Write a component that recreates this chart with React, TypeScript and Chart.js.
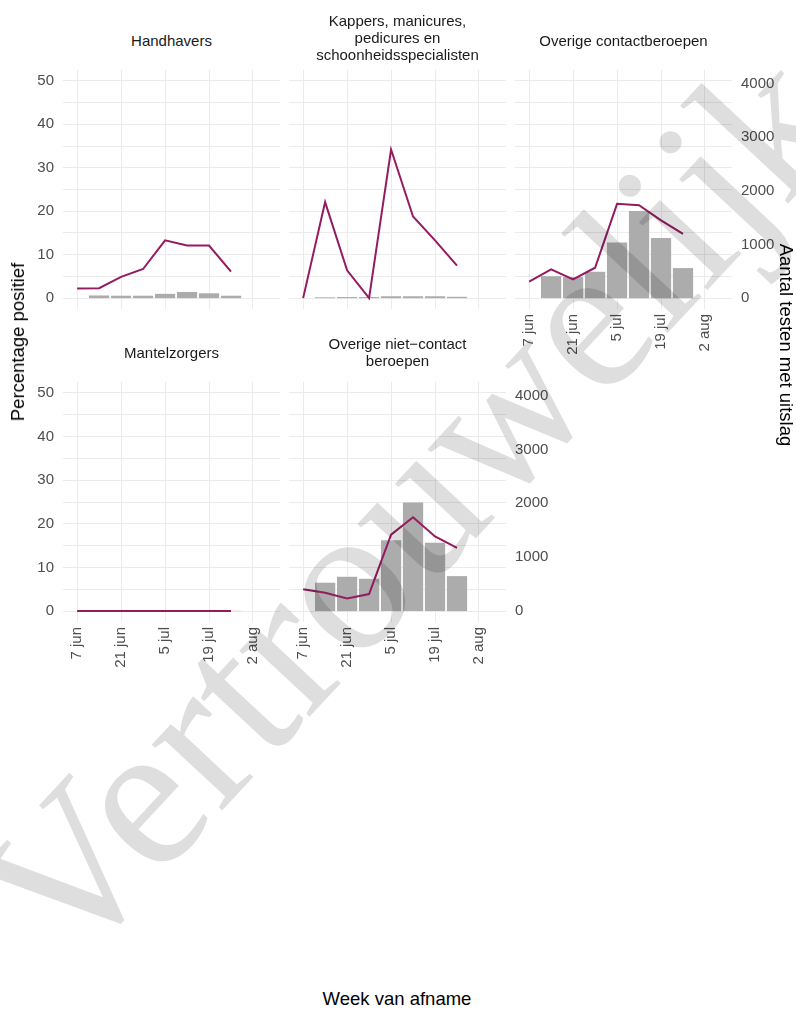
import React, { useEffect, useRef } from 'react';
import { Chart, registerables } from 'chart.js';

Chart.register(...registerables);

// ---- data ----
const weekDates = ['2020-06-07', '2020-06-14', '2020-06-21', '2020-06-28', '2020-07-05', '2020-07-12', '2020-07-19', '2020-07-26'];
const barDates = ['2020-06-14', '2020-06-21', '2020-06-28', '2020-07-05', '2020-07-12', '2020-07-19', '2020-07-26'];
const axisTickDates = ['2020-06-07', '2020-06-21', '2020-07-05', '2020-07-19', '2020-08-02'];
const axisTickLabels = ['7 jun', '21 jun', '5 jul', '19 jul', '2 aug'];
const pctTicks = [0, 10, 20, 30, 40, 50];
const countTicks = [0, 1000, 2000, 3000, 4000];

const pctHandhavers = [2.2, 2.3, 4.9, 6.7, 13.3, 12.1, 12.1, 6.1];
const countHandhavers = [50, 45, 45, 80, 115, 90, 45];
const pctKappers = [0, 22.1, 6.4, 0, 34.2, 18.8, 13.3, 7.5];
const countKappers = [15, 20, 20, 35, 35, 35, 25];
const pctContact = [3.8, 6.6, 4.3, 7.0, 21.7, 21.4, 17.9, 14.8];
const countContact = [410, 392, 491, 1039, 1623, 1119, 560];
const pctMantel = [0, 0, 0, 0, 0, 0, 0, 0];
const countMantel = [4, 5, 5, 6, 6, 5, 5];
const pctNietContact = [5.0, 4.2, 2.9, 3.9, 17.5, 21.5, 17.1, 14.5];
const countNietContact = [527, 637, 600, 1317, 2015, 1268, 649];

const facetTitles = [
  ['Handhavers'],
  ['Kappers, manicures,', 'pedicures en', 'schoonheidsspecialisten'],
  ['Overige contactberoepen'],
  ['Mantelzorgers'],
  ['Overige niet\u2212contact', 'beroepen'],
];

// ---- styling / layout ----
const FONT = '"Liberation Sans", Arial, sans-serif';
const LINE_COLOR = '#951b61';
const BAR_COLOR = '#acacac';
const GRID_COLOR = '#ebebeb';
const TICK_COLOR = '#4d4d4d';
const COUNT_FACTOR = 81;
const X_MIN = -4.5;
const X_MAX = 64.6;
const Y_MIN = -2.5;
const Y_MAX = 52.5;

const COLS = [
  { left: 63, right: 280 },
  { left: 289, right: 506 },
  { left: 515, right: 732 },
];
const ROWS = [
  { top: 70, bottom: 309 },
  { top: 382, bottom: 622 },
];
const ML = 60, MR = 60, MT = 20, MB = 70;

const DAY = 86400000;
const origin = Date.parse(weekDates[0]);
const toDay = (s: string) => Math.round((Date.parse(s) - origin) / DAY);
const weekDays = weekDates.map(toDay);
const barDays = barDates.map(toDay);
const tickDays = axisTickDates.map(toDay);

type Spec = {
  title: string[];
  col: number;
  row: number;
  pct: number[];
  count: number[];
  showX: boolean;
  showY: boolean;
  showY2: boolean;
  titleTop: number;
};

const panels: Spec[] = [
  { title: facetTitles[0], col: 0, row: 0, pct: pctHandhavers, count: countHandhavers, showX: false, showY: true, showY2: false, titleTop: 31.5 },
  { title: facetTitles[1], col: 1, row: 0, pct: pctKappers, count: countKappers, showX: false, showY: false, showY2: false, titleTop: 11.5 },
  { title: facetTitles[2], col: 2, row: 0, pct: pctContact, count: countContact, showX: true, showY: false, showY2: true, titleTop: 31.5 },
  { title: facetTitles[3], col: 0, row: 1, pct: pctMantel, count: countMantel, showX: true, showY: true, showY2: false, titleTop: 343.5 },
  { title: facetTitles[4], col: 1, row: 1, pct: pctNietContact, count: countNietContact, showX: true, showY: false, showY2: true, titleTop: 334.5 },
];

function Panel({ spec }: { spec: Spec }) {
  const ref = useRef<HTMLCanvasElement>(null);
  const { left, right } = COLS[spec.col];
  const { top, bottom } = ROWS[spec.row];
  const w = right - left + ML + MR;
  const h = bottom - top + MT + MB;

  useEffect(() => {
    const tickFont = { family: FONT, size: 15 };
    const chart = new Chart(ref.current as HTMLCanvasElement, {
      type: 'bar',
      data: {
        datasets: [
          {
            type: 'line',
            data: weekDays.map((d, i) => ({ x: d, y: spec.pct[i] })),
            borderColor: LINE_COLOR,
            borderWidth: 2,
            pointRadius: 0,
            tension: 0,
            yAxisID: 'y',
            order: 0,
          } as any,
          {
            type: 'bar',
            data: barDays.map((d, i) => ({ x: d, y: spec.count[i] })),
            backgroundColor: BAR_COLOR,
            borderWidth: 0,
            barPercentage: 0.92,
            categoryPercentage: 1,
            yAxisID: 'y2',
            order: 1,
          } as any,
        ],
      },
      options: {
        responsive: false,
        maintainAspectRatio: false,
        animation: false,
        layout: { padding: { top: MT, left: 0, right: 0, bottom: 0 } },
        plugins: { legend: { display: false }, tooltip: { enabled: false } },
        scales: {
          x: {
            type: 'linear',
            min: X_MIN,
            max: X_MAX,
            offset: false,
            border: { display: false },
            grid: { color: GRID_COLOR, lineWidth: 1, drawTicks: false, offset: false },
            afterBuildTicks: (s: any) => {
              s.ticks = tickDays.map((v) => ({ value: v }));
            },
            afterFit: (s: any) => {
              s.height = MB;
              s.paddingLeft = 0;
              s.paddingRight = 0;
              s.paddingTop = 0;
              s.paddingBottom = 0;
            },
            ticks: {
              display: spec.showX,
              autoSkip: false,
              minRotation: 90,
              maxRotation: 90,
              padding: 5,
              color: TICK_COLOR,
              font: tickFont,
              callback: (v: any) => {
                const i = tickDays.indexOf(Number(v));
                return i >= 0 ? axisTickLabels[i] : '';
              },
            },
          },
          y: {
            type: 'linear',
            position: 'left',
            min: Y_MIN,
            max: Y_MAX,
            border: { display: false },
            grid: { color: GRID_COLOR, lineWidth: 1, drawTicks: false },
            afterBuildTicks: (s: any) => {
              const t: any[] = [];
              for (let k = 0; k < pctTicks.length; k++) {
                t.push({ value: pctTicks[k] });
                if (k < pctTicks.length - 1) t.push({ value: (pctTicks[k] + pctTicks[k + 1]) / 2 });
              }
              s.ticks = t;
            },
            afterFit: (s: any) => {
              s.width = ML;
              s.paddingLeft = 0;
              s.paddingRight = 0;
              s.paddingTop = 0;
              s.paddingBottom = 0;
            },
            ticks: {
              display: spec.showY,
              autoSkip: false,
              padding: 9,
              color: TICK_COLOR,
              font: tickFont,
              callback: (v: any) => (pctTicks.includes(Number(v)) ? String(v) : ''),
            },
          },
          y2: {
            type: 'linear',
            position: 'right',
            min: Y_MIN * COUNT_FACTOR,
            max: Y_MAX * COUNT_FACTOR,
            border: { display: false },
            grid: { display: false, drawTicks: false },
            afterBuildTicks: (s: any) => {
              s.ticks = countTicks.map((v) => ({ value: v }));
            },
            afterFit: (s: any) => {
              s.width = MR;
              s.paddingLeft = 0;
              s.paddingRight = 0;
              s.paddingTop = 0;
              s.paddingBottom = 0;
            },
            ticks: {
              display: spec.showY2,
              autoSkip: false,
              padding: 9,
              color: TICK_COLOR,
              font: tickFont,
              callback: (v: any) => String(v),
            },
          },
        },
      } as any,
    });
    return () => chart.destroy();
  }, [spec]);

  return (
    <>
      <canvas
        ref={ref}
        width={w}
        height={h}
        style={{ position: 'absolute', left: left - ML, top: top - MT, width: w, height: h }}
      />
      <div
        style={{
          position: 'absolute',
          left,
          top: spec.titleTop,
          width: right - left,
          textAlign: 'center',
          fontFamily: FONT,
          fontSize: 15,
          lineHeight: '17px',
          color: '#1a1a1a',
          whiteSpace: 'nowrap',
        }}
      >
        {spec.title.map((t, i) => (
          <div key={i}>{t}</div>
        ))}
      </div>
    </>
  );
}

export default function App() {
  useEffect(() => {
    document.body.style.margin = '0';
  }, []);
  return (
    <div style={{ position: 'absolute', left: 0, top: 0, width: 796, height: 1010, background: '#fff', overflow: 'hidden' }}>
      {panels.map((p, i) => (
        <Panel key={i} spec={p} />
      ))}
      <div
        style={{
          position: 'absolute',
          left: 18,
          top: 342,
          transform: 'translate(-50%, -50%) rotate(-90deg)',
          fontFamily: FONT,
          fontSize: 18.5,
          whiteSpace: 'nowrap',
          color: '#000',
        }}
      >
        Percentage positief
      </div>
      <div
        style={{
          position: 'absolute',
          left: 786,
          top: 345,
          transform: 'translate(-50%, -50%) rotate(90deg)',
          fontFamily: FONT,
          fontSize: 18.5,
          whiteSpace: 'nowrap',
          color: '#000',
        }}
      >
        Aantal testen met uitslag
      </div>
      <div
        style={{
          position: 'absolute',
          left: 397,
          top: 999,
          transform: 'translate(-50%, -50%)',
          fontFamily: FONT,
          fontSize: 18.5,
          whiteSpace: 'nowrap',
          color: '#000',
        }}
      >
        Week van afname
      </div>
      <div
        style={{
          position: 'absolute',
          left: 410,
          top: 505,
          transform: 'translate(-50%, -50%) rotate(-47deg)',
          fontFamily: '"Liberation Serif", "Times New Roman", serif',
          fontSize: 210,
          whiteSpace: 'nowrap',
          color: 'rgba(0,0,0,0.13)',
          pointerEvents: 'none',
          lineHeight: 1,
        }}
      >
        Vertrouwelijk
      </div>
    </div>
  );
}
